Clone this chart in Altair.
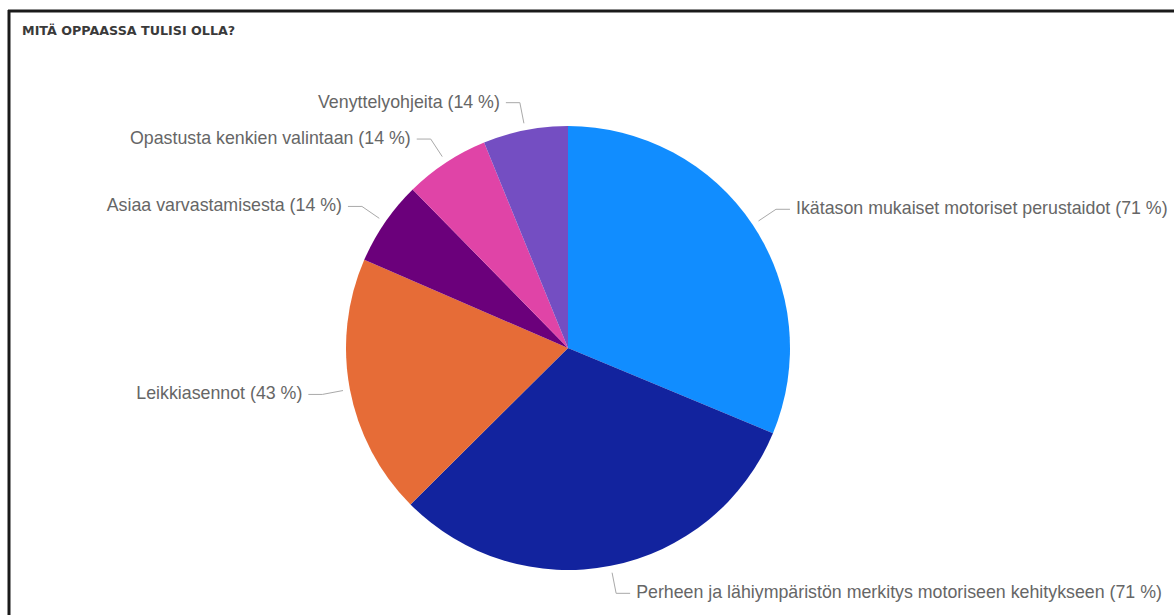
import altair as alt
import pandas as pd

title_text = "MITÄ OPPAASSA TULISI OLLA?"
categories = [
    "Ikätason mukaiset motoriset perustaidot",
    "Perheen ja lähiympäristön merkitys motoriseen kehitykseen",
    "Leikkiasennot",
    "Asiaa varvastamisesta",
    "Opastusta kenkien valintaan",
    "Venyttelyohjeita",
]
values = [71, 71, 43, 14, 14, 14]
colors = ["#118DFF", "#12239E", "#E66C37", "#6B007B", "#E044A7", "#744EC2"]

W, H = 1174, 615
CX, CY, R = 568, 348, 222
R0, R1, HSEG, GAP = 229, 250, 14, 6

df = pd.DataFrame({
    "idx": list(range(len(categories))),
    "cat": categories,
    "value": values,
    "label": [f"{c} ({v} %)" for c, v in zip(categories, values)],
})

xs = alt.Scale(domain=[0, W], range=[0, W])
ys = alt.Scale(domain=[0, H], range=[0, H])

base = alt.Chart(df)

pie = base.mark_arc(outerRadius=R).encode(
    theta=alt.Theta("value:Q", stack=True),
    order=alt.Order("idx:Q"),
    color=alt.Color("cat:N", scale=alt.Scale(domain=categories, range=colors), legend=None),
    x=alt.value(CX),
    y=alt.value(CY),
)

geo = base.transform_window(
    cum="sum(value)", sort=[alt.SortField("idx")]
).transform_joinaggregate(
    total="sum(value)"
).transform_calculate(
    mid=f"(datum.cum - datum.value/2) / datum.total * 2 * PI"
).transform_calculate(
    side="sin(datum.mid) > 0 ? 1 : -1",
    x0=f"{CX} + {R0}*sin(datum.mid)",
    y0=f"{CY} - {R0}*cos(datum.mid)",
    x1=f"{CX} + {R1}*sin(datum.mid)",
    y1=f"{CY} - {R1}*cos(datum.mid)",
).transform_calculate(
    x2=f"datum.x1 + datum.side*{HSEG}",
    tx=f"datum.x1 + datum.side*{HSEG + GAP}",
)

lead1 = geo.mark_rule(color="#A9A9A9", strokeWidth=1).encode(
    x=alt.X("x0:Q", scale=xs, axis=None),
    y=alt.Y("y0:Q", scale=ys, axis=None),
    x2="x1:Q",
    y2="y1:Q",
)
lead2 = geo.mark_rule(color="#A9A9A9", strokeWidth=1).encode(
    x=alt.X("x1:Q", scale=xs, axis=None),
    y=alt.Y("y1:Q", scale=ys, axis=None),
    x2="x2:Q",
    y2="y1:Q",
)

txt_kw = dict(font="Liberation Sans", fontSize=17.8, color="#666666", baseline="middle")
right_lbl = geo.transform_filter("datum.side > 0").mark_text(align="left", **txt_kw).encode(
    x=alt.X("tx:Q", scale=xs, axis=None),
    y=alt.Y("y1:Q", scale=ys, axis=None),
    text="label:N",
)
left_lbl = geo.transform_filter("datum.side < 0").mark_text(align="right", **txt_kw).encode(
    x=alt.X("tx:Q", scale=xs, axis=None),
    y=alt.Y("y1:Q", scale=ys, axis=None),
    text="label:N",
)

title = alt.Chart(pd.DataFrame({"t": [title_text]})).mark_text(
    align="left", baseline="middle", font="DejaVu Sans", fontWeight="bold",
    fontSize=12.7, color="#3A3A3A",
).encode(x=alt.value(22), y=alt.value(31), text="t:N")

border_top = alt.Chart(pd.DataFrame({"a": [0]})).mark_rule(color="#1A1A1A", strokeWidth=3).encode(
    x=alt.value(8), x2=alt.value(W), y=alt.value(11)
)
border_left = alt.Chart(pd.DataFrame({"a": [0]})).mark_rule(color="#1A1A1A", strokeWidth=3).encode(
    x=alt.value(9), y=alt.value(10), y2=alt.value(H)
)

chart = alt.layer(
    pie, lead1, lead2, right_lbl, left_lbl, title, border_top, border_left
).properties(
    width=W, height=H, padding=0, autosize=alt.AutoSizeParams(type="none"),
    background="white",
).configure_view(stroke=None)

chart.save("out.html", embed_options={"renderer": "svg", "actions": False})
